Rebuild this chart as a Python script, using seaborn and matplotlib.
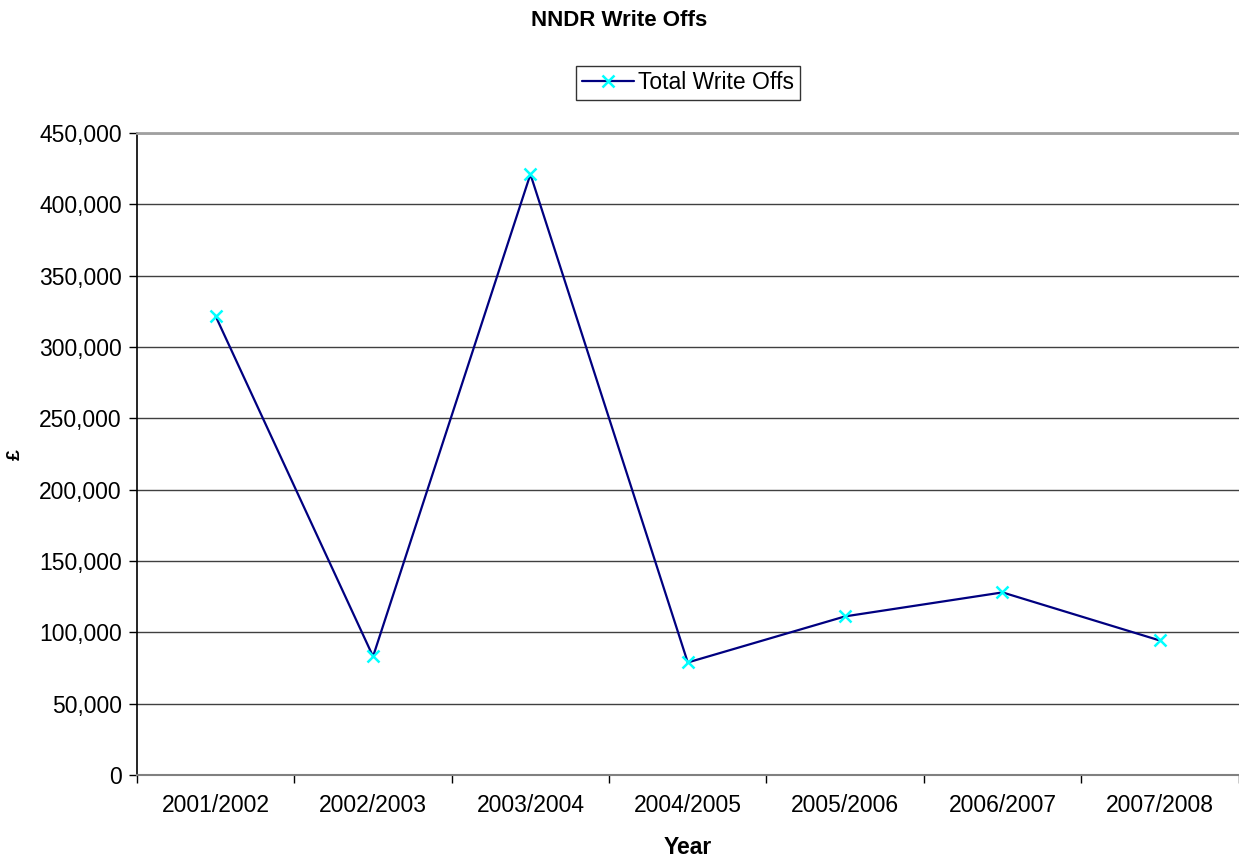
import numpy as np
import pandas as pd
import matplotlib.pyplot as plt
import seaborn as sns
from matplotlib.ticker import FuncFormatter, FixedLocator

# data
years = ['2001/2002', '2002/2003', '2003/2004', '2004/2005',
         '2005/2006', '2006/2007', '2007/2008']
write_offs = [321500, 83100, 421100, 78900, 111200, 128000, 94300]

df = pd.DataFrame({'Year': years, 'Total Write Offs': write_offs})

sns.set_style('white')
plt.rcParams['font.family'] = ['Liberation Sans', 'DejaVu Sans']
plt.rcParams['text.color'] = 'black'
plt.rcParams['axes.labelcolor'] = 'black'
plt.rcParams['xtick.color'] = 'black'
plt.rcParams['ytick.color'] = 'black'

fig = plt.figure(figsize=(12.39, 8.58), dpi=100)
ax = fig.add_axes([0.1106, 0.0967, 0.889, 0.7483])

sns.lineplot(data=df, x='Year', y='Total Write Offs', ax=ax, sort=False,
             color='#000080', linewidth=1.6, marker='x', markersize=9,
             markeredgecolor='#00ffff', markeredgewidth=1.8,
             label='Total Write Offs')

ax.set_xlim(-0.5, len(years) - 0.5)
ax.set_ylim(0, 450000)
ax.set_yticks(np.arange(0, 450001, 50000))
ax.yaxis.set_major_formatter(FuncFormatter(lambda v, p: f'{int(v):,}'))
ax.xaxis.set_minor_locator(FixedLocator(np.arange(-0.5, len(years), 1.0)))
ax.tick_params(axis='x', which='major', length=0, pad=14, labelsize=16.5)
ax.tick_params(axis='x', which='minor', length=6, width=1, color='black',
               direction='out', bottom=True)
ax.tick_params(axis='y', length=6, width=1, color='black', direction='out',
               left=True, pad=5, labelsize=16.5)

ax.grid(axis='y', color='#404040', linewidth=1)
ax.set_axisbelow(True)
ax.spines['left'].set_color('black')
ax.spines['left'].set_linewidth(1.2)
ax.spines['bottom'].set_color('#808080')
ax.spines['bottom'].set_linewidth(1.5)
ax.spines['top'].set_color('#a0a0a0')
ax.spines['top'].set_linewidth(2)
ax.spines['right'].set_visible(False)

ax.set_xlabel('')
ax.set_ylabel('')
fig.text(0.555, 0.012, 'Year', ha='center', va='center',
         fontsize=16.5, fontweight='bold')
fig.text(0.012, 0.47, '£', ha='center', va='center', rotation=90,
         fontsize=14, fontweight='bold')
fig.suptitle('NNDR Write Offs', fontsize=16, fontweight='bold', x=0.5, y=0.988)

leg = ax.legend(loc='center', bbox_to_anchor=(0.5, 1.078), frameon=True,
                fontsize=16.5, handlelength=2.3, handletextpad=0.15,
                borderpad=0.25, fancybox=False, borderaxespad=0)
leg.get_frame().set_edgecolor('black')
leg.get_frame().set_linewidth(1)

fig.savefig('out.png', dpi=100)
